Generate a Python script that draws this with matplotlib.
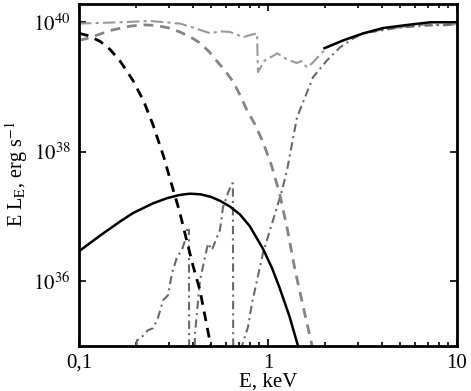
import numpy as np
import matplotlib
matplotlib.use("Agg")
import matplotlib.pyplot as plt
from matplotlib.ticker import FixedLocator, FuncFormatter, NullLocator, LogLocator

plt.rcParams['font.family'] = ['Liberation Serif', 'DejaVu Serif']
plt.rcParams['mathtext.fontset'] = 'stix'

# black dashed (soft component)
bd_E = [0.1, 0.113, 0.13, 0.146, 0.165, 0.193, 0.22, 0.246, 0.28, 0.31, 0.34, 0.372, 0.40, 0.437, 0.494, 0.52]
bd_L = [39.83, 39.79, 39.70, 39.58, 39.40, 39.10, 38.78, 38.42, 37.93, 37.48, 37.08, 36.62, 36.25, 35.85, 35.05, 34.7]

# black solid (low energy hump)
bs_E = [0.1, 0.129, 0.165, 0.193, 0.246, 0.292, 0.34, 0.386, 0.44, 0.5, 0.557, 0.63, 0.71, 0.8, 0.94,
        1.05, 1.15, 1.3, 1.44, 1.5]
bs_L = [36.46, 36.70, 36.92, 37.05, 37.20, 37.28, 37.33, 37.35, 37.34, 37.30, 37.24, 37.15, 37.03, 36.85, 36.50,
        36.20, 35.90, 35.45, 35.0, 34.8]

# black solid (high energy)
bh_E = [1.99, 2.5, 3.2, 4.05, 5.5, 7.2, 10.0]
bh_L = [39.60, 39.72, 39.83, 39.91, 39.96, 40.0, 40.0]

# gray dashed
gd_E = [0.1, 0.114, 0.13, 0.15, 0.186, 0.22, 0.259, 0.30, 0.342, 0.39, 0.437, 0.49, 0.536, 0.59, 0.654, 0.71,
        0.774, 0.85, 0.94, 1.04, 1.15, 1.26, 1.39, 1.55, 1.71, 1.8]
gd_L = [39.72, 39.76, 39.82, 39.88, 39.94, 39.96, 39.95, 39.91, 39.85, 39.77, 39.68, 39.54, 39.40, 39.26, 39.08, 38.88,
        38.64, 38.43, 38.15, 37.80, 37.36, 36.83, 36.17, 35.55, 35.0, 34.7]

# light gray dash-dot (upper)
ud_E = [0.1, 0.165, 0.238, 0.342, 0.40, 0.494, 0.56, 0.63, 0.74, 0.80, 0.875, 0.885, 0.96,
        1.05, 1.12, 1.22, 1.30, 1.42, 1.50, 1.61, 1.73, 2.05, 2.5, 3.0, 3.9, 5.5, 7.2, 8.5, 10.0]
ud_L = [39.98, 40.0, 40.02, 39.98, 39.92, 39.83, 39.86, 39.85, 39.77, 39.80, 39.83, 39.23, 39.41,
        39.47, 39.52, 39.45, 39.41, 39.37, 39.40, 39.30, 39.38, 39.61, 39.72, 39.80, 39.88, 39.94, 39.97, 39.95, 39.97]

# dark gray dash-dot (absorbed, with edges)
ad_E = [0.197, 0.2027, 0.21, 0.2317, 0.2464, 0.2618, 0.2783, 0.2958, 0.3105, 0.330, 0.3507, 0.364, 0.3727,
        0.3817, 0.3830,
        0.405, 0.411, 0.4366, 0.4642, 0.4815, 0.5055, 0.537, 0.557, 0.578, 0.614, 0.645,
        0.652, 0.655,
        0.72, 0.7285, 0.784, 0.823, 0.875, 0.941, 1.025, 1.116, 1.186, 1.26, 1.424, 1.73, 2.05,
        2.40, 2.82, 3.18, 4.99, 7.0, 10.0]
ad_L = [34.7, 35.085, 35.10, 35.24, 35.27, 35.43, 35.70, 35.78, 36.12, 36.37, 36.48, 36.63, 36.79,
        36.79, 34.5,
        34.5, 35.19, 36.01, 36.37, 36.58, 36.48, 36.68, 36.79, 37.14, 37.36, 37.51,
        37.51, 34.5,
        34.5, 35.0, 35.29, 35.66, 36.01, 36.43, 36.79, 37.14, 37.40, 37.71, 38.53, 39.15, 39.41,
        39.61, 39.75, 39.83, 39.92, 39.95, 39.97]

fig = plt.figure(figsize=(4.71, 3.91), dpi=100)
ax = fig.add_axes([0.1677, 0.1159, 0.8026, 0.8751])

def p(E, L):
    return np.asarray(E), 10.0 ** np.asarray(L)

ax.plot(*p(ud_E, ud_L), color='#9a9a9a', lw=1.5, ls=(0, (6, 2, 1.5, 2)))
ax.plot(*p(ad_E, ad_L), color='#6a6a6a', lw=1.5, ls=(0, (4, 2, 1, 2)))
ax.plot(*p(gd_E, gd_L), color='#858585', lw=2.0, ls=(0, (3.5, 2.5)))
ax.plot(*p(bd_E, bd_L), color='black', lw=2.0, ls=(0, (3.5, 2.5)))
ax.plot(*p(bs_E, bs_L), color='black', lw=1.8)
ax.plot(*p(bh_E, bh_L), color='black', lw=1.8)

ax.set_xscale('log')
ax.set_yscale('log')
ax.set_xlim(0.1, 10)
ax.set_ylim(1e35, 10 ** 40.29)

ax.xaxis.set_major_locator(FixedLocator([0.1, 1, 10]))
ax.xaxis.set_minor_locator(LogLocator(base=10, subs=np.arange(2, 10)))
ax.xaxis.set_major_formatter(FuncFormatter(lambda v, pos: {0.1: '0,1', 1: '1', 10: '10'}.get(round(v, 3), '')))
ax.yaxis.set_major_locator(FixedLocator([1e36, 1e38, 1e40]))
ax.yaxis.set_minor_locator(NullLocator())
ax.yaxis.set_major_formatter(FuncFormatter(lambda v, pos: r'$10^{%d}$' % round(np.log10(v))))

ax.tick_params(which='both', direction='in', top=True, right=True, labelsize=15, width=1.2)
ax.tick_params(which='major', length=5, pad=6)
ax.tick_params(which='minor', length=3)
for s in ax.spines.values():
    s.set_linewidth(2.0)

ax.set_xlabel('E, keV', fontsize=15, labelpad=0)
ax.set_ylabel(r'E L$_{\rm E}$, erg s$^{-1}$', fontsize=14.5, labelpad=2)

fig.savefig('out.png', dpi=100)
